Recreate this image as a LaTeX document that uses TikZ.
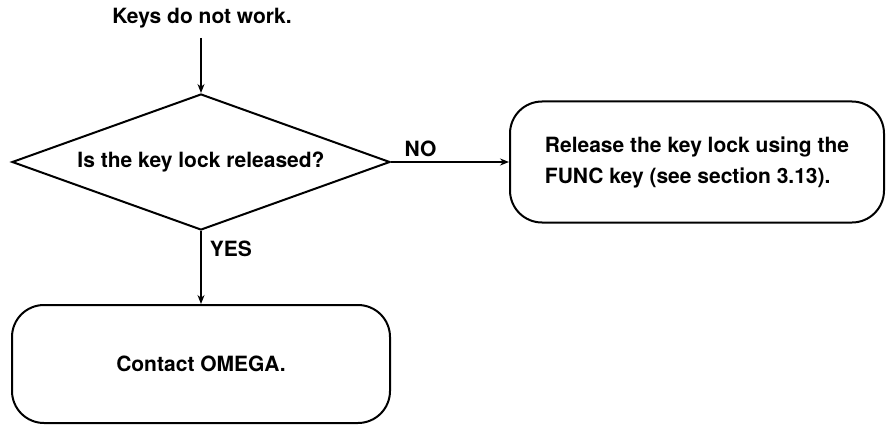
\documentclass[tikz,border=0pt]{standalone}
\usepackage{fontspec}
\setmainfont{TeX Gyre Heros}
\usetikzlibrary{arrows.meta,positioning,shapes.geometric}
\tikzset{
  box/.style        = {draw, line width=2pt, rounded corners=32pt, inner sep=0pt,
                       align=left},
  decide/.style     = {draw, line width=2pt, diamond, aspect=2.78, inner sep=0pt,
                       minimum width=378pt, minimum height=136pt},
  sig/.style        = {-{Stealth[length=9pt,width=7pt,inset=3pt]}, line width=1.5pt},
  every node/.style = {font=\bfseries\fontsize{21}{25}\selectfont},
  lbl/.style        = {inner sep=0pt},
}
\begin{document}
\begin{tikzpicture}[x=1pt,y=-1pt]
  \useasboundingbox (0,0) rectangle (886,425);
  \node[lbl] (start) at (202,18) {Keys do not work.};
  \node[decide] (q) at (201,162) {Is the key lock released?};
  \node[box, minimum width=374pt, minimum height=121pt] (fix) at (697,162)
    {Release the key lock using the\\[6pt]FUNC key (see section 3.13).};
  \node[box, minimum width=378pt, minimum height=118pt] (call) at (201,364)
    {Contact OMEGA.};
  \coordinate (top) at (201,38);
  \draw[sig] (top) -- (q.north);
  \draw[sig] (q.east) -- (fix.west) node[pos=0.25, above=4pt, lbl] {NO};
  \draw[sig] (q.south) -- (call.north) node[pos=0.24, right=8pt, lbl] {YES};
\end{tikzpicture}
\end{document}
